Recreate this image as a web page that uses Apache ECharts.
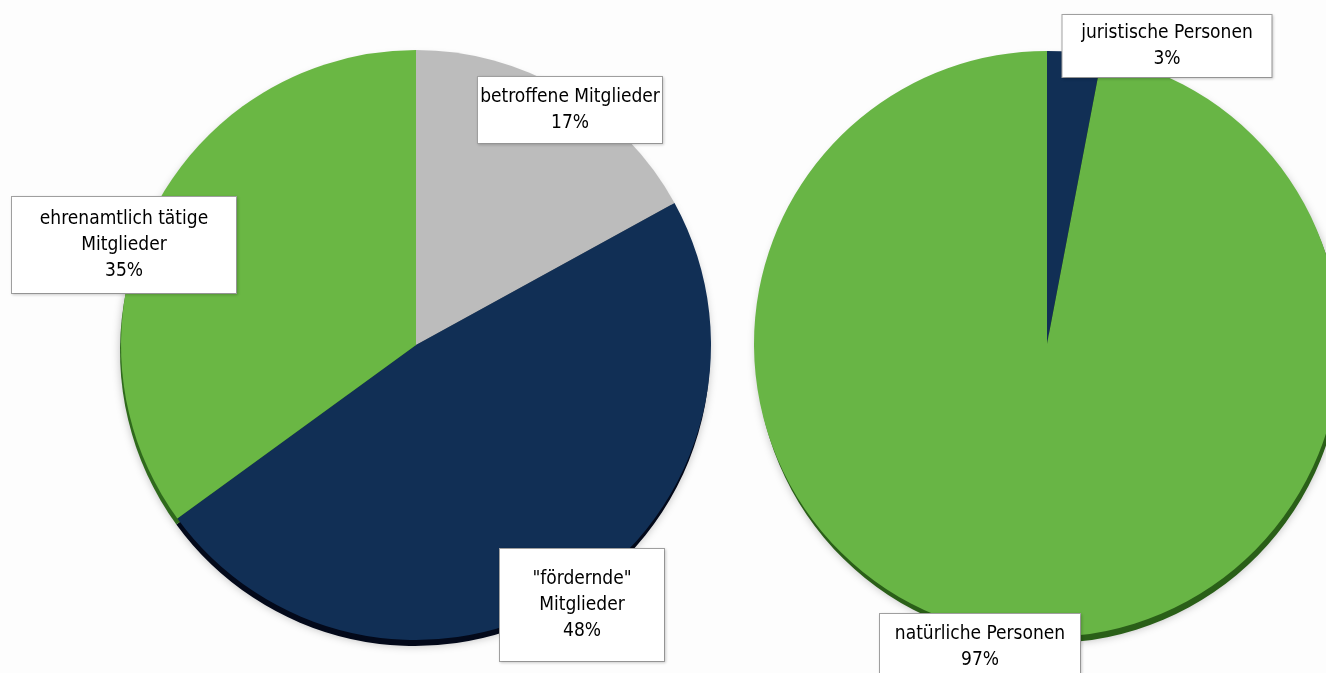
<!DOCTYPE html>
<html>
<head>
<meta charset="utf-8">
<script src="https://cdn.jsdelivr.net/npm/echarts@6/dist/echarts.min.js"></script>
<style>
html,body{margin:0;padding:0;background:#fdfdfd;}
#chart{width:1326px;height:673px;}
</style>
</head>
<body>
<div id="chart"></div>
<script>
// ---- data ----
const leftCategories = ['betroffene Mitglieder', '"fördernde"\nMitglieder', 'ehrenamtlich tätige\nMitglieder'];
const leftValues = [17, 48, 35];
const rightCategories = ['juristische Personen', 'natürliche Personen'];
const rightValues = [3, 97];

// ---- styles / layout ----
const GREEN = '#6ab744';
const NAVY = '#112f55';
const GRAY = '#bcbcbc';
const leftColors = [GRAY, NAVY, GREEN];
const leftRim = ['#7a7a7a', '#03091a', '#2f6a1c'];
const rightColors = [NAVY, '#68b545'];
const rightRim = ['#03091a', '#2a5f18'];

// label boxes: centre x, centre y, content width, vertical padding
const leftBoxes = [
  {x: 570, y: 110, w: 176, pv: 7},
  {x: 582, y: 605, w: 156, pv: 17},
  {x: 124, y: 245, w: 216, pv: 9}
];
const rightBoxes = [
  {x: 1167, y: 46, w: 201, pv: 5},
  {x: 980, y: 647, w: 192, pv: 7}
];

const FONT = '"DejaVu Sans Condensed", "Liberation Sans Narrow", sans-serif';

function mkData(cats, vals, colors, boxes) {
  return cats.map((c, i) => ({
    name: c, value: vals[i],
    itemStyle: {color: colors[i]},
    label: {
      width: boxes[i].w,
      padding: [boxes[i].pv, 4, boxes[i].pv, 4]
    }
  }));
}

const labelStyle = {
  show: true,
  position: 'inside',
  formatter: '{b}\n{c}%',
  color: '#000000',
  fontFamily: FONT,
  fontSize: 19,
  lineHeight: 26,
  overflow: 'none',
  align: 'center',
  verticalAlign: 'middle',
  backgroundColor: '#ffffff',
  borderColor: '#a3a3a3',
  borderWidth: 1,
  shadowColor: 'rgba(0,0,0,0.15)',
  shadowBlur: 3,
  shadowOffsetX: 1,
  shadowOffsetY: 1
};

function rimSeries(center, radius, vals, cats, rim) {
  return {
    type: 'pie', silent: true, z: 1,
    center: center, radius: radius,
    startAngle: 90, clockwise: true,
    animation: false,
    label: {show: false}, labelLine: {show: false},
    itemStyle: {shadowColor: 'rgba(0,0,0,0.25)', shadowBlur: 8},
    emphasis: {disabled: true},
    data: cats.map((c, i) => ({name: c, value: vals[i], itemStyle: {color: rim[i]}}))
  };
}

const chart = echarts.init(document.getElementById('chart'), null, {renderer: 'canvas'});
chart.setOption({
  backgroundColor: '#fdfdfd',
  animation: false,
  series: [
    rimSeries([415, 351], 295, leftValues, leftCategories, leftRim),
    {
      type: 'pie', z: 2,
      center: [416, 345], radius: 295,
      startAngle: 90, clockwise: true,
      label: labelStyle,
      labelLine: {show: false},
      labelLayout: p => ({x: leftBoxes[p.dataIndex].x, y: leftBoxes[p.dataIndex].y}),
      emphasis: {disabled: true},
      data: mkData(leftCategories, leftValues, leftColors, leftBoxes)
    },
    rimSeries([1049, 350], 293, rightValues, rightCategories, rightRim),
    {
      type: 'pie', z: 2,
      center: [1047, 344], radius: 293,
      startAngle: 90, clockwise: true,
      label: labelStyle,
      labelLine: {show: false},
      labelLayout: p => ({x: rightBoxes[p.dataIndex].x, y: rightBoxes[p.dataIndex].y}),
      emphasis: {disabled: true},
      data: mkData(rightCategories, rightValues, rightColors, rightBoxes)
    }
  ]
});
</script>
</body>
</html>
